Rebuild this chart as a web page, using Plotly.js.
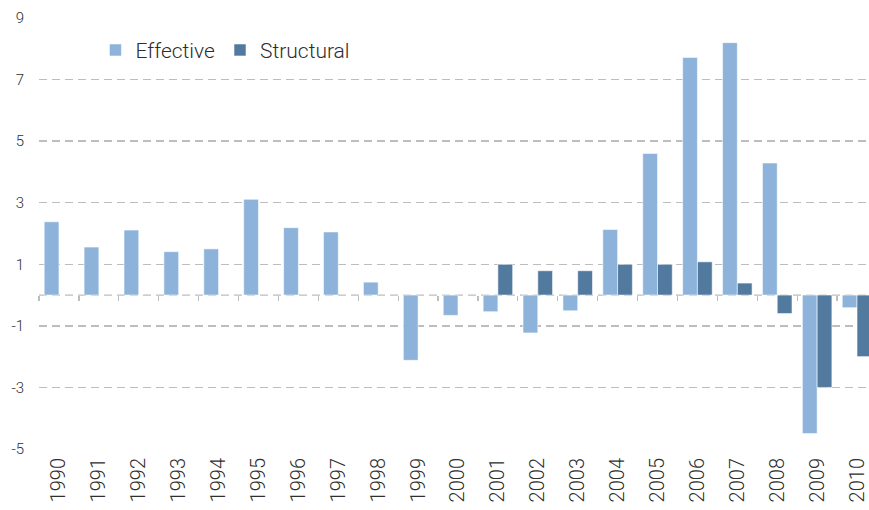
<!DOCTYPE html>
<html>
<head>
<meta charset="utf-8">
<script src="https://cdn.plot.ly/plotly-3.0.1.min.js"></script>
<style>html,body{margin:0;padding:0;background:#fff;}#chart{width:869px;height:510px;}</style>
</head>
<body>
<div id="chart"></div>
<script>
const years = ["1990","1991","1992","1993","1994","1995","1996","1997","1998","1999","2000","2001","2002","2003","2004","2005","2006","2007","2008","2009","2010"];
const effective = [2.38,1.56,2.11,1.41,1.50,3.11,2.19,2.05,0.42,-2.12,-0.66,-0.54,-1.23,-0.51,2.13,4.60,7.72,8.20,4.29,-4.50,-0.41];
const structural = [null,null,null,null,null,null,null,null,null,null,null,1.00,0.79,0.79,1.00,1.00,1.08,0.39,-0.60,-3.00,-2.00];
const yTicks = [-5,-3,-1,1,3,5,7,9];
const yRange = [-5, 9];
const xRange = [-0.5, 20.3];

const fontFamily = "Roboto, 'DejaVu Sans', sans-serif";
const textColor = "#2e2e2e";
const gridColor = "#bdbdbd";
const dashPattern = "8px,5px";

const traces = [
  {type:"bar", name:"Effective", x:years, y:effective, xaxis:"x", yaxis:"y",
   marker:{color:"#8db3da", line:{color:"rgba(255,255,255,0.55)", width:1}}},
  {type:"bar", name:"Structural", x:years, y:structural, xaxis:"x", yaxis:"y",
   marker:{color:"#52799e", line:{color:"rgba(255,255,255,0.55)", width:1}}},
  {type:"scatter", mode:"markers", x:years, y:years.map(()=>null), xaxis:"x2", yaxis:"y",
   showlegend:false, hoverinfo:"skip", marker:{opacity:0}}
];

const layout = {
  width:869, height:510,
  margin:{l:39.3, r:0, t:17.7, b:60.7, pad:0},
  paper_bgcolor:"#fff", plot_bgcolor:"#fff",
  font:{family:fontFamily, color:textColor, weight:300},
  barmode:"group", bargap:0.26, bargroupgap:0,
  showlegend:true,
  legend:{orientation:"h", x:0.068, y:0.925, xanchor:"left", yanchor:"middle",
          font:{size:21, family:fontFamily, color:textColor, weight:300}, bgcolor:"rgba(0,0,0,0)",
          itemwidth:30, traceorder:"normal"},
  xaxis:{type:"category", categoryorder:"array", categoryarray:years, range:xRange,
         showgrid:false, zeroline:false, showline:false, ticks:"",
         tickangle:-90, tickfont:{size:20, family:fontFamily, color:textColor, weight:300},
         ticklabelstandoff:4, fixedrange:true},
  xaxis2:{type:"category", categoryorder:"array", categoryarray:years, range:xRange,
          overlaying:"x", anchor:"free",
          position:(0 - yRange[0])/(yRange[1]-yRange[0]),
          showgrid:false, zeroline:false, showline:false,
          ticks:"outside", tickson:"boundaries", ticklen:5, tickwidth:1.2, tickcolor:gridColor,
          showticklabels:false, fixedrange:true},
  yaxis:{range:yRange, tickmode:"array", tickvals:yTicks, ticktext:yTicks.map(String),
         showgrid:true, gridcolor:gridColor, gridwidth:1.3, griddash:dashPattern,
         zeroline:false, showline:false, ticks:"",
         tickfont:{size:15, family:fontFamily, color:textColor, weight:300},
         ticklabelstandoff:14, fixedrange:true},
  shapes:[{type:"line", xref:"paper", x0:0, x1:1, yref:"y", y0:0, y1:0,
           line:{color:gridColor, width:1.3, dash:dashPattern}, layer:"below"}]
};

Plotly.newPlot("chart", traces, layout, {displayModeBar:false, staticPlot:true});
</script>
</body>
</html>
